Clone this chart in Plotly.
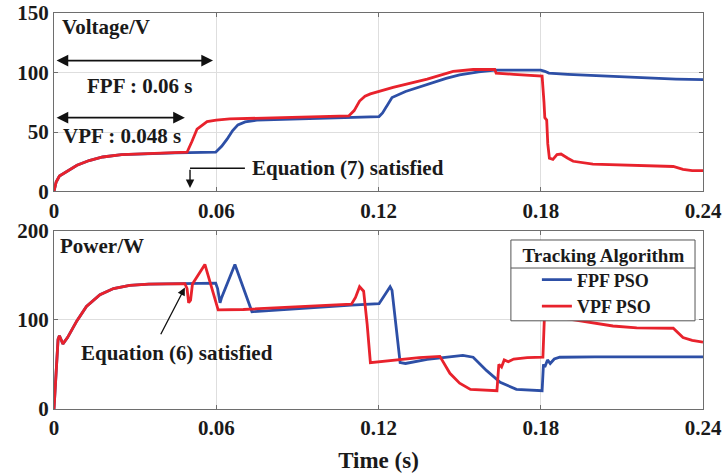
import plotly.graph_objects as go
from plotly.subplots import make_subplots

# ---- Voltage (V) ----
t_v_fpf = [0, 0.0008, 0.002, 0.005, 0.0085, 0.013, 0.018, 0.025, 0.035, 0.045, 0.0598,
           0.062, 0.064, 0.066, 0.068, 0.0707, 0.075, 0.09, 0.105, 0.1202,
           0.1215, 0.125, 0.13, 0.138, 0.145, 0.15, 0.157, 0.163, 0.17, 0.18,
           0.1815, 0.183, 0.19, 0.1993, 0.21, 0.22, 0.23, 0.24]
v_fpf = [0, 8, 13, 17, 22, 26, 29, 31, 32, 32.5, 33,
         38, 44, 51, 56, 58.5, 60, 61, 62, 63,
         66, 79, 84, 90, 95, 98, 100.5, 102, 102, 102,
         101, 99.5, 98.5, 97.5, 96.5, 95.5, 94.5, 94]

t_v_vpf = [0, 0.0008, 0.002, 0.005, 0.0085, 0.013, 0.018, 0.025, 0.035, 0.045, 0.0492,
           0.051, 0.0529, 0.0566, 0.06, 0.065, 0.08, 0.095, 0.109,
           0.111, 0.113, 0.115, 0.117, 0.1254, 0.138, 0.1476, 0.155, 0.163,
           0.1635, 0.17, 0.1805, 0.1812, 0.1815, 0.1822, 0.1826, 0.1832, 0.1845,
           0.186, 0.1875, 0.19, 0.192, 0.1993, 0.212, 0.229, 0.2326, 0.236, 0.24]
v_vpf = [0, 8, 13, 17, 22, 26, 29, 31, 32, 32.5, 33,
         42, 52.5, 58.7, 60, 61, 61.8, 62.5, 63.5,
         68, 76, 80, 82, 87.5, 94.5, 101, 102.5, 102.5,
         99.5, 98.5, 97, 75, 62, 60, 40, 28, 27,
         31, 31.5, 28, 25.4, 23, 22, 21, 18.6, 17.5, 17.5]

# ---- Power (W) ----
t_p_fpf = [0, 0.0008, 0.0015, 0.002, 0.0033, 0.005, 0.0085, 0.012, 0.017, 0.022, 0.028,
           0.035, 0.0484, 0.0598, 0.0605, 0.0614, 0.062, 0.0669, 0.0732, 0.08, 0.09,
           0.1, 0.11, 0.1202, 0.1243, 0.125, 0.128, 0.13, 0.138, 0.1512, 0.155,
           0.16, 0.165, 0.171, 0.1805, 0.181, 0.1815, 0.1825, 0.1835, 0.185, 0.187,
           0.2, 0.22, 0.24]
p_fpf = [0, 45, 78, 82, 73, 80, 99, 115, 128, 135, 138.5,
         140, 140.5, 141, 135, 119, 125, 162, 109, 110.5, 112.5,
         114.5, 116.5, 118, 137, 133, 52, 51, 55.5, 60, 58,
         43, 30, 22, 20.5, 50, 47, 55, 51, 56, 58,
         58.5, 58.5, 58.5]

t_p_vpf = [0, 0.0008, 0.0015, 0.002, 0.0033, 0.005, 0.0085, 0.012, 0.017, 0.022, 0.028,
           0.035, 0.0484, 0.0492, 0.0498, 0.0505, 0.0512, 0.0558, 0.0607, 0.07, 0.08,
           0.09, 0.1, 0.11, 0.1115, 0.113, 0.1145, 0.1158, 0.117, 0.125, 0.135,
           0.1427, 0.1464, 0.15, 0.154, 0.1638, 0.1645, 0.1655, 0.1665, 0.168, 0.17,
           0.175, 0.1808, 0.1815, 0.185, 0.19, 0.198, 0.2067, 0.2155, 0.229, 0.2326,
           0.236, 0.24]
p_vpf = [0, 45, 78, 82, 73, 80, 99, 115, 128, 135, 138.5,
         140, 140.5, 135, 119, 122, 140, 162, 111, 111.5, 113,
         114.5, 116, 117.5, 125, 137, 132, 95, 52, 54.5, 57.5,
         59, 40, 29, 22, 20.5, 50, 47, 55, 53, 56,
         57.5, 58, 115, 106, 101, 97, 93, 91, 90.5, 80,
         77, 75]

x_ticks = [0, 0.06, 0.12, 0.18, 0.24]
x_tick_text = ["0", "0.06", "0.12", "0.18", "0.24"]
v_ticks = [0, 50, 100, 150]
p_ticks = [0, 100, 200]

BLUE = "#2D4FA6"
RED = "#E8222C"
FONT = "Liberation Serif"
TXT = "#1a1a1a"
NB = "\u00a0"

# legend frame (paper coordinates)
LEG_X0, LEG_X1 = 0.704, 0.9877
LEG_Y0, LEG_Y1 = 0.2227, 0.4268
LEG_RULE_Y = 0.356


def bold(s):
    return "<b>" + s + "</b>"


fig = make_subplots(rows=2, cols=1, vertical_spacing=0.0985, shared_xaxes=False)

fig.add_trace(go.Scatter(x=t_v_fpf, y=v_fpf, mode="lines", line=dict(color=BLUE, width=2.8),
                         name=bold("FPF PSO"), showlegend=False), row=1, col=1)
fig.add_trace(go.Scatter(x=t_v_vpf, y=v_vpf, mode="lines", line=dict(color=RED, width=2.8),
                         name=bold("VPF PSO"), showlegend=False), row=1, col=1)
fig.add_trace(go.Scatter(x=t_p_fpf, y=p_fpf, mode="lines", line=dict(color=BLUE, width=2.8),
                         name=bold("FPF PSO")), row=2, col=1)
fig.add_trace(go.Scatter(x=t_p_vpf, y=p_vpf, mode="lines", line=dict(color=RED, width=2.8),
                         name=bold("VPF PSO")), row=2, col=1)

axis_common = dict(showline=True, linecolor="#6e6e6e", linewidth=1.2, mirror="ticks",
                   ticks="inside", ticklen=4, tickcolor="#6e6e6e", automargin=False,
                   showgrid=True, gridcolor="#dedede", gridwidth=1, zeroline=False,
                   tickfont=dict(family=FONT, size=21, color=TXT))

fig.update_xaxes(range=[0, 0.24], tickvals=x_ticks,
                 ticktext=[bold(s) for s in x_tick_text], **axis_common)
fig.update_yaxes(**axis_common)
fig.update_yaxes(range=[0, 150], tickvals=v_ticks,
                 ticktext=[bold(str(v)) for v in v_ticks], row=1, col=1)
fig.update_yaxes(range=[0, 200], tickvals=p_ticks,
                 ticktext=[bold(str(v)) for v in p_ticks], row=2, col=1)
fig.update_xaxes(title=dict(text=bold("Time (s)"), font=dict(family=FONT, size=23, color=TXT)),
                 row=2, col=1)

ann_font = dict(family=FONT, size=21, color=TXT)

annotations = [
    # panel labels
    dict(text=bold("Voltage/V"), xref="x domain", yref="y domain", x=0.009, y=0.92,
         xanchor="left", yanchor="middle", showarrow=False, font=ann_font),
    dict(text=bold("Power/W"), xref="x2 domain", yref="y2 domain", x=0.006, y=0.915,
         xanchor="left", yanchor="middle", showarrow=False, font=ann_font),
    # convergence-time spans
    dict(text="", xref="x", yref="y", x=0.0588, y=110, ax=0.0004, ay=110, axref="x", ayref="y",
         showarrow=True, arrowside="end+start", arrowhead=2, arrowsize=1.3, arrowwidth=1.8,
         arrowcolor="#111"),
    dict(text=bold("FPF : 0.06 s"), xref="x", yref="y", x=0.0318, y=89, showarrow=False,
         font=ann_font),
    dict(text="", xref="x", yref="y", x=0.0484, y=62, ax=0.0004, ay=62, axref="x", ayref="y",
         showarrow=True, arrowside="end+start", arrowhead=2, arrowsize=1.3, arrowwidth=1.8,
         arrowcolor="#111"),
    dict(text=bold("VPF : 0.048 s"), xref="x", yref="y", x=0.0251, y=46.6, showarrow=False,
         font=ann_font),
    # Equation (7)
    dict(text="", xref="x", yref="y", x=0.0503, y=3, ax=0.0503, ay=19.5, axref="x", ayref="y",
         showarrow=True, arrowhead=2, arrowsize=1.2, arrowwidth=1.4, arrowcolor="#111"),
    dict(text=bold("Equation (7) satisfied"), xref="x", yref="y", x=0.0725, y=19.5,
         xanchor="left", showarrow=False, font=ann_font),
    # Equation (6)
    dict(text="", xref="x2", yref="y2", x=0.0484, y=136, ax=0.0392, ay=82, axref="x2", ayref="y2",
         showarrow=True, arrowhead=2, arrowsize=1.2, arrowwidth=1.3, arrowcolor="#111"),
    dict(text=bold("Equation (6) satisfied"), xref="x2", yref="y2", x=0.0455, y=63,
         showarrow=False, font=ann_font),
]

shapes = [
    dict(type="line", xref="x", yref="y", x0=0.0503, x1=0.0706, y0=19.5, y1=19.5,
         line=dict(color="#111", width=1.4)),
    # legend panel: white backing with frame, and a rule under the heading
    dict(type="rect", xref="paper", yref="paper", x0=LEG_X0, x1=LEG_X1, y0=LEG_Y0, y1=LEG_Y1,
         fillcolor="white", line=dict(color="#555", width=1), layer="above"),
    dict(type="line", xref="paper", yref="paper", x0=LEG_X0, x1=LEG_X1,
         y0=LEG_RULE_Y, y1=LEG_RULE_Y, line=dict(color="#555", width=1), layer="above"),
]

fig.update_layout(
    width=723, height=473,
    margin=dict(l=54, r=20, t=13, b=64),
    paper_bgcolor="white", plot_bgcolor="white",
    font=dict(family=FONT, color=TXT),
    annotations=annotations,
    shapes=shapes,
    legend=dict(
        title=dict(text=NB * 2 + bold("Tracking Algorithm") + NB * 2, side="top center",
                   font=dict(family=FONT, size=19, color=TXT)),
        font=dict(family=FONT, size=18, color=TXT),
        x=LEG_X0, y=LEG_Y1 + 0.008, xanchor="left", yanchor="top",
        bgcolor="rgba(0,0,0,0)", borderwidth=0,
        tracegroupgap=0, itemwidth=30, indentation=26,
    ),
)

fig.write_html("out.html")
